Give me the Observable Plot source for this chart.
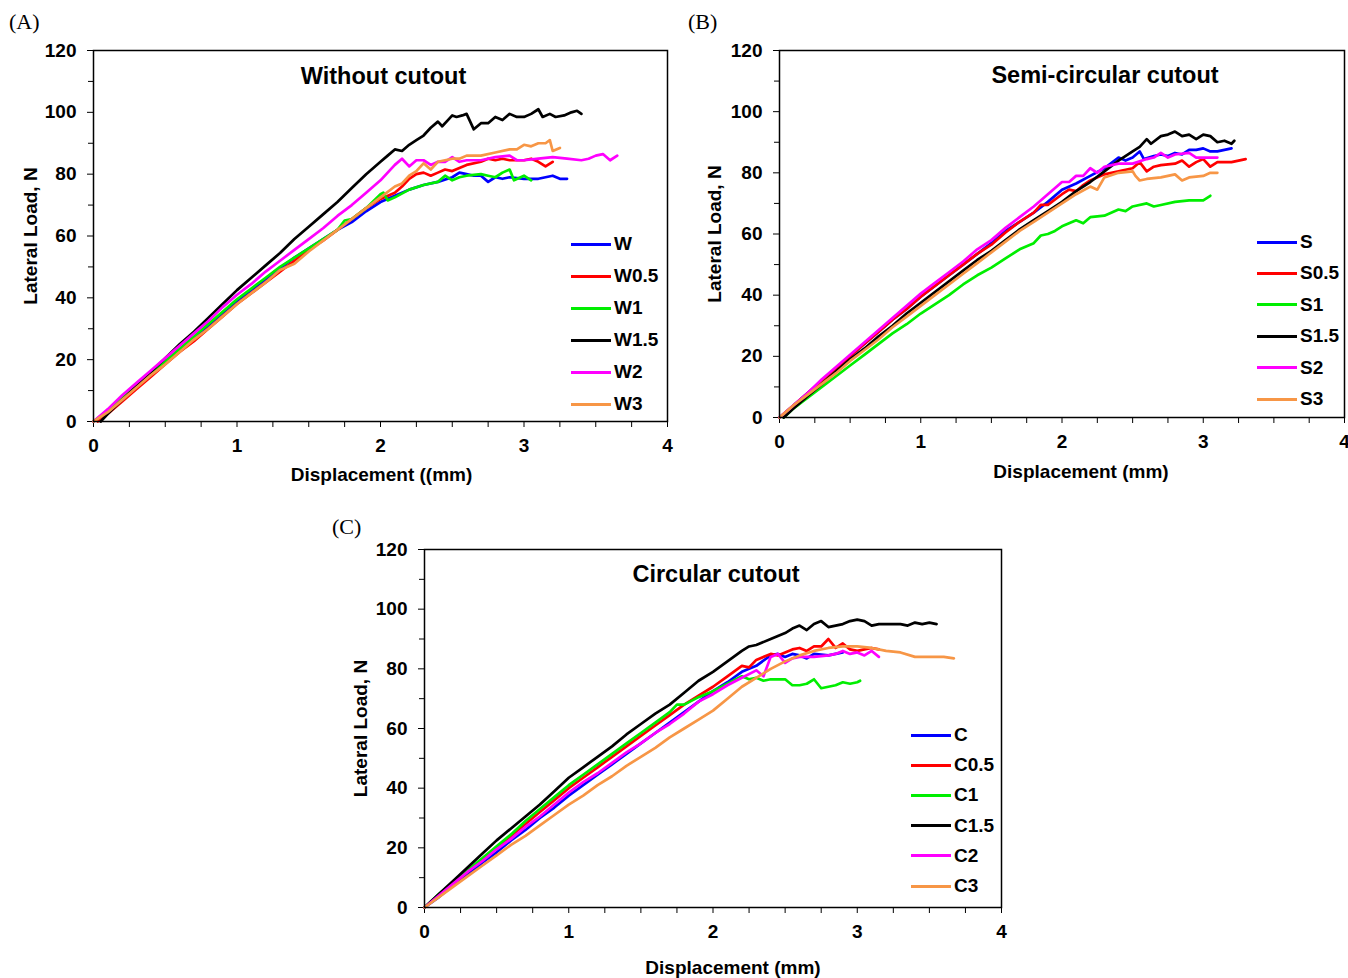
<!DOCTYPE html>
<html><head><meta charset="utf-8">
<script src="https://cdn.jsdelivr.net/npm/d3@7"></script>
<script src="https://cdn.jsdelivr.net/npm/@observablehq/plot@0.6"></script>
<style>
body{margin:0;background:#fff;}
#wrap{position:relative;width:1348px;height:978px;background:#fff;overflow:hidden;font-family:"Liberation Sans",Arial,sans-serif;}
.panel{position:absolute;}
.plab{position:absolute;font-family:"Liberation Serif","Times New Roman",serif;font-size:22px;color:#000;line-height:22px;}
.row{position:absolute;height:20px;display:flex;align-items:center;white-space:nowrap;}
.sw{width:40px;height:3px;}
.tx{font-weight:bold;font-size:19px;margin-left:3px;color:#000;}
</style></head><body><div id="wrap"></div>
<script>
// ---- shared tick labels / colours ----
const xTicks = [0, 1, 2, 3, 4];
const xMinorTicks = [0.25,0.5,0.75,1.25,1.5,1.75,2.25,2.5,2.75,3.25,3.5,3.75];
const yTicks = [0, 20, 40, 60, 80, 100, 120];
const yMinorTicks = [10, 30, 50, 70, 90, 110];
const seriesColors = ["#0000ff", "#ff0000", "#00ee00", "#000000", "#ff00ff", "#f79646"];

// ---- Panel A: Without cutout ----
const namesA = ["W", "W0.5", "W1", "W1.5", "W2", "W3"];
const A_W = [[0,0],[0.1,3.5],[0.2,7.5],[0.3,11.5],[0.4,15.5],[0.5,19.5],[0.6,23],[0.7,27],[0.8,31],[0.9,35],[1.0,39],[1.1,42.5],[1.2,46],[1.3,49.5],[1.4,53],[1.5,56],[1.6,59],[1.7,62],[1.8,64.5],[1.9,68],[2.0,71],[2.1,73],[2.2,75],[2.3,76.5],[2.4,77.5],[2.5,79],[2.55,80.5],[2.6,80],[2.65,79.5],[2.7,79.5],[2.75,77.5],[2.8,79],[2.85,78.5],[2.9,79],[3.0,78.5],[3.1,78.5],[3.2,79.5],[3.25,78.5],[3.3,78.5]];
const A_W05 = [[0.03,0],[0.1,2.5],[0.2,6.5],[0.3,10.5],[0.4,14.5],[0.5,18.5],[0.6,22.5],[0.7,26],[0.8,30],[0.9,34],[1.0,38],[1.1,41.5],[1.2,45],[1.3,48.5],[1.4,52],[1.5,55.5],[1.6,58.5],[1.7,62],[1.8,65.5],[1.9,69],[2.0,72],[2.1,74],[2.15,76],[2.2,78.5],[2.25,80],[2.3,80.5],[2.35,79.5],[2.4,80.5],[2.45,81.5],[2.5,81],[2.6,83],[2.7,84],[2.75,85],[2.8,84.5],[2.85,85],[2.9,84.5],[3.0,84.5],[3.05,85],[3.1,84],[3.15,82.5],[3.2,84]];
const A_W1 = [[0,0],[0.1,3.5],[0.2,7.5],[0.3,11.5],[0.4,15.5],[0.5,19.5],[0.6,23.5],[0.7,27.5],[0.8,31.5],[0.9,35.5],[1.0,39.5],[1.1,43],[1.2,46.5],[1.3,50],[1.4,53],[1.5,56],[1.6,59],[1.7,62],[1.75,65],[1.8,65.5],[1.9,69],[2.0,73.5],[2.02,74],[2.05,71.5],[2.1,72.5],[2.2,75],[2.3,76.5],[2.4,77.5],[2.45,79.5],[2.5,78],[2.55,79],[2.6,79.5],[2.7,80],[2.75,79.5],[2.8,79],[2.85,80.5],[2.9,81.5],[2.93,78],[3.0,79.5],[3.05,78]];
const A_W15 = [[0.05,0],[0.1,2.5],[0.2,7],[0.3,11.5],[0.4,16],[0.5,20.5],[0.6,25],[0.7,29],[0.8,33.5],[0.9,38],[1.0,42.5],[1.1,46.5],[1.2,50.5],[1.3,54.5],[1.4,59],[1.5,63],[1.6,67],[1.7,71],[1.8,75.5],[1.9,80],[2.0,84],[2.05,86],[2.1,88],[2.15,87.5],[2.2,89.5],[2.25,91],[2.3,92.5],[2.35,95],[2.4,97],[2.43,95.5],[2.47,97.5],[2.5,99],[2.53,98.5],[2.57,99],[2.6,99.5],[2.65,94.5],[2.7,96.5],[2.75,96.5],[2.8,98.5],[2.85,97.5],[2.9,99.5],[2.95,98.5],[3.0,98.5],[3.05,99.5],[3.1,101],[3.13,98.5],[3.18,99.5],[3.22,98.5],[3.28,99],[3.33,100],[3.37,100.5],[3.4,99.5]];
const A_W2 = [[0,0],[0.1,4],[0.2,8.5],[0.3,12.5],[0.4,16.5],[0.5,20.5],[0.6,24.5],[0.7,28.5],[0.8,32.5],[0.9,37],[1.0,41],[1.1,44.5],[1.2,48.5],[1.3,52],[1.4,55.5],[1.5,59],[1.6,62.5],[1.7,66.5],[1.8,70],[1.9,74],[2.0,78],[2.05,80.5],[2.1,83],[2.15,85],[2.2,82.5],[2.25,84.5],[2.3,84.5],[2.35,83],[2.4,84],[2.45,84],[2.5,85.5],[2.55,84],[2.6,84.5],[2.7,84.5],[2.8,85.5],[2.9,86],[2.95,84.5],[3.0,84.5],[3.1,85],[3.2,85.5],[3.3,85],[3.4,84.5],[3.45,85],[3.5,86],[3.55,86.5],[3.6,84.5],[3.65,86]];
const A_W3 = [[0,0],[0.1,3],[0.2,7],[0.3,11],[0.4,15],[0.5,18.5],[0.6,22.5],[0.7,26.5],[0.8,30],[0.9,34],[1.0,38],[1.1,41.5],[1.2,45],[1.3,49],[1.4,51],[1.5,55],[1.6,58.5],[1.7,62],[1.8,65.5],[1.9,69],[2.0,72.5],[2.1,76],[2.15,77],[2.2,79.5],[2.25,81],[2.3,83.5],[2.35,81.5],[2.4,84],[2.5,85],[2.55,85],[2.6,86],[2.7,86],[2.8,87],[2.9,88],[2.95,88],[3.0,89.5],[3.05,89],[3.1,90],[3.15,90],[3.18,91],[3.2,87.5],[3.25,88.5]];

// ---- Panel B: Semi-circular cutout ----
const namesB = ["S", "S0.5", "S1", "S1.5", "S2", "S3"];
const B_S = [[0,0],[0.1,4],[0.2,8],[0.3,12],[0.4,16],[0.5,20],[0.6,24],[0.7,28],[0.8,32],[0.9,35.5],[1.0,39.5],[1.1,43],[1.2,46.5],[1.3,50],[1.4,53.5],[1.5,57],[1.6,61],[1.7,64],[1.8,67],[1.9,70.5],[2.0,74.5],[2.1,76.5],[2.2,79],[2.3,81.5],[2.4,85],[2.45,84],[2.5,85],[2.55,87],[2.58,84.5],[2.65,85.5],[2.7,86],[2.75,85.5],[2.8,86.5],[2.85,86],[2.9,87.5],[2.95,87.5],[3.0,88],[3.05,87],[3.1,87],[3.15,87.5],[3.2,88]];
const B_S05 = [[0,0],[0.1,4],[0.2,8],[0.3,12],[0.4,16],[0.5,20],[0.6,24],[0.7,28],[0.8,32],[0.9,35.5],[1.0,39.5],[1.1,43],[1.2,46.5],[1.3,50],[1.4,53.5],[1.5,56.5],[1.6,60.5],[1.7,64],[1.8,67],[1.85,69.5],[1.9,69.5],[2.0,73],[2.05,74.5],[2.1,74],[2.15,76],[2.2,77.5],[2.3,79.5],[2.4,80.5],[2.5,81.5],[2.55,83.5],[2.6,80.5],[2.65,82],[2.7,82.5],[2.8,83],[2.85,84],[2.9,82],[2.95,83.5],[3.0,84.5],[3.05,82],[3.1,83.5],[3.2,83.5],[3.3,84.5]];
const B_S1 = [[0.03,0],[0.1,3],[0.2,6.5],[0.3,10],[0.4,13.5],[0.5,17],[0.6,20.5],[0.7,24],[0.8,27.5],[0.9,30.5],[1.0,34],[1.1,37],[1.2,40],[1.3,43.5],[1.4,46.5],[1.5,49],[1.6,52],[1.7,55],[1.8,57],[1.85,59.5],[1.9,60],[1.95,61],[2.0,62.5],[2.1,64.5],[2.15,63.5],[2.2,65.5],[2.3,66],[2.4,68],[2.45,67.5],[2.5,69],[2.6,70],[2.65,69],[2.7,69.5],[2.8,70.5],[2.9,71],[3.0,71],[3.05,72.5]];
const B_S15 = [[0.03,0],[0.1,3],[0.2,7],[0.3,11],[0.4,15],[0.5,19],[0.6,22.5],[0.7,26.5],[0.8,30],[0.9,34],[1.0,37.5],[1.1,41],[1.2,44.5],[1.3,48],[1.4,51.5],[1.5,54.5],[1.6,58],[1.7,61.5],[1.8,64.5],[1.9,67.5],[2.0,70.5],[2.1,74],[2.2,77],[2.3,80.5],[2.4,84],[2.5,87],[2.55,88.5],[2.6,91],[2.63,89.5],[2.7,92],[2.75,92.5],[2.8,93.5],[2.85,92],[2.9,92.5],[2.95,91],[3.0,92.5],[3.05,92],[3.1,90],[3.15,90.5],[3.2,89.5],[3.22,90.5]];
const B_S2 = [[0,0],[0.1,4],[0.2,8],[0.3,12.5],[0.4,16.5],[0.5,20.5],[0.6,24.5],[0.7,28.5],[0.8,32.5],[0.9,36.5],[1.0,40.5],[1.1,44],[1.2,47.5],[1.3,51],[1.4,55],[1.5,58],[1.6,62],[1.7,65.5],[1.8,69],[1.9,73],[2.0,77],[2.05,77],[2.1,79],[2.15,79],[2.2,81.5],[2.25,80],[2.3,82],[2.4,83],[2.5,83],[2.6,84.5],[2.65,85],[2.7,86.5],[2.75,85],[2.8,86],[2.9,86.5],[2.95,85],[3.0,85],[3.1,85]];
const B_S3 = [[0,0],[0.1,4],[0.2,7.5],[0.3,11],[0.4,14.5],[0.5,18.5],[0.6,22],[0.7,25.5],[0.8,29.5],[0.9,33],[1.0,36.5],[1.1,40],[1.2,43.5],[1.3,47],[1.4,50.5],[1.5,54],[1.6,57.5],[1.7,61],[1.8,64],[1.9,67],[2.0,70],[2.1,73],[2.2,75.5],[2.25,74.5],[2.3,78.5],[2.4,80],[2.5,80.5],[2.52,79],[2.55,77.5],[2.6,78],[2.7,78.5],[2.8,79.5],[2.85,77.5],[2.9,78.5],[3.0,79],[3.05,80],[3.1,80]];

// ---- Panel C: Circular cutout ----
const namesC = ["C", "C0.5", "C1", "C1.5", "C2", "C3"];
const C_C = [[0,0],[0.1,3.5],[0.2,7.5],[0.3,11],[0.4,15],[0.5,18.5],[0.6,22.5],[0.7,26],[0.8,30],[0.9,33.5],[1.0,37.5],[1.1,41],[1.2,44.5],[1.3,48],[1.4,51.5],[1.5,55],[1.6,58.5],[1.7,62],[1.8,65.5],[1.9,69],[2.0,72.5],[2.1,75.5],[2.2,79],[2.3,81],[2.4,84.5],[2.45,85],[2.5,84],[2.55,85],[2.6,84.5],[2.65,83.5],[2.7,85],[2.8,84.5],[2.9,85.5]];
const C_C05 = [[0,0],[0.1,4],[0.2,8],[0.3,12],[0.4,16],[0.5,20],[0.6,24],[0.7,28],[0.8,32],[0.9,36],[1.0,40],[1.1,43.5],[1.2,47],[1.3,50.5],[1.4,54],[1.5,57.5],[1.6,61],[1.7,64.5],[1.8,68],[1.9,71],[2.0,74],[2.1,77.5],[2.2,81],[2.25,80.5],[2.3,83],[2.4,85],[2.45,84.5],[2.5,85.5],[2.55,86.5],[2.6,87],[2.65,86],[2.7,87.5],[2.75,87.5],[2.8,90],[2.85,87],[2.9,88.5],[2.95,86.5],[3.0,86],[3.05,86.5],[3.1,87],[3.15,86.5]];
const C_C1 = [[0,0],[0.1,4.5],[0.2,8.5],[0.3,12.5],[0.4,16.5],[0.5,20.5],[0.6,24.5],[0.7,29],[0.8,33],[0.9,37],[1.0,41],[1.1,44.5],[1.2,48],[1.3,51.5],[1.4,55],[1.5,58.5],[1.6,62],[1.7,65.5],[1.75,68],[1.8,68],[1.9,70.5],[2.0,72.5],[2.1,75],[2.2,77.5],[2.25,76.5],[2.3,77],[2.35,76],[2.4,76.5],[2.5,76.5],[2.55,74.5],[2.6,74.5],[2.65,75],[2.7,76.5],[2.75,73.5],[2.8,74],[2.85,74.5],[2.9,75.5],[2.95,75],[3.0,75.5],[3.02,76]];
const C_C15 = [[0,0],[0.1,4.5],[0.2,9],[0.3,13.5],[0.4,18],[0.5,22.5],[0.6,26.5],[0.7,30.5],[0.8,34.5],[0.9,39],[1.0,43.5],[1.1,47],[1.2,50.5],[1.3,54],[1.4,58],[1.5,61.5],[1.6,65],[1.7,68],[1.8,72],[1.9,76],[2.0,79],[2.1,82.5],[2.2,86],[2.25,87.5],[2.3,88],[2.4,90],[2.5,92],[2.55,93.5],[2.6,94.5],[2.65,93],[2.7,95],[2.75,96],[2.8,94],[2.85,94.5],[2.9,95],[2.95,96],[3.0,96.5],[3.05,96],[3.1,94.5],[3.15,95],[3.2,95],[3.3,95],[3.35,94.5],[3.4,95.5],[3.45,95],[3.5,95.5],[3.55,95]];
const C_C2 = [[0,0],[0.1,4],[0.2,8],[0.3,12],[0.4,15.5],[0.5,19.5],[0.6,23],[0.7,27],[0.8,30.5],[0.9,34.5],[1.0,38.5],[1.1,42],[1.2,45],[1.3,48.5],[1.4,52],[1.5,55],[1.6,58.5],[1.7,61.5],[1.8,65],[1.9,69],[2.0,71.5],[2.1,74.5],[2.2,77],[2.3,79.5],[2.35,77.5],[2.4,84],[2.45,85],[2.5,82],[2.55,83.5],[2.6,84],[2.7,84],[2.8,84.5],[2.85,85],[2.9,86],[2.95,85],[3.0,85.5],[3.05,84.5],[3.1,86],[3.15,84]];
const C_C3 = [[0,0],[0.1,3.5],[0.2,7],[0.3,10.5],[0.4,14],[0.5,17.5],[0.6,21],[0.7,24],[0.8,27.5],[0.9,31],[1.0,34.5],[1.1,37.5],[1.2,41],[1.3,44],[1.4,47.5],[1.5,50.5],[1.6,53.5],[1.7,57],[1.8,60],[1.9,63],[2.0,66],[2.1,70],[2.2,74],[2.3,77],[2.4,80],[2.5,82.5],[2.6,84.5],[2.7,86],[2.8,87],[2.9,87.5],[3.0,87.5],[3.1,87],[3.2,86],[3.3,85.5],[3.4,84],[3.5,84],[3.6,84],[3.67,83.5]];

const wrap = document.getElementById("wrap");
const FONT = "'Liberation Sans', Arial, sans-serif";

function makePanel(cfg) {
  const marks = [
    Plot.axisY(yMinorTicks, {tickSize: 5, tickFormat: () => "", label: null}),
    Plot.axisY(yTicks, {tickSize: 6, tickPadding: 11, fontSize: 19, fontWeight: "bold", tickFormat: d => String(d), label: null}),
    Plot.axisX(xMinorTicks, {tickSize: 6, tickFormat: () => "", label: null}),
    Plot.axisX(xTicks, {tickSize: 6, tickPadding: 11, fontSize: 19, fontWeight: "bold", tickFormat: d => String(d), label: null})
  ];
  cfg.series.forEach((s, i) => {
    marks.push(Plot.line(s, {x: d => d[0], y: d => d[1], stroke: seriesColors[i], strokeWidth: 2.7, strokeLinejoin: "round"}));
  });
  marks.push(Plot.frame({stroke: "#000", strokeWidth: 1.5}));
  marks.push(Plot.text([cfg.title], {frameAnchor: "top", dy: cfg.titleDy, dx: cfg.titleDx, fontSize: 23.5, fontWeight: "bold", textAnchor: "middle", lineAnchor: "middle"}));
  marks.push(Plot.text([cfg.xLabel], {frameAnchor: "bottom", dy: cfg.xLabelDy, dx: cfg.xLabelDx, fontSize: 19, fontWeight: "bold", textAnchor: "middle", lineAnchor: "middle"}));
  marks.push(Plot.text(["Lateral Load, N"], {frameAnchor: "left", dx: cfg.yLabelDx, rotate: -90, fontSize: 19, fontWeight: "bold", textAnchor: "middle", lineAnchor: "middle"}));
  const svg = Plot.plot({
    width: cfg.width, height: cfg.height,
    marginLeft: cfg.m[0], marginTop: cfg.m[1], marginRight: cfg.m[2], marginBottom: cfg.m[3],
    x: {domain: [0, 4]}, y: {domain: [0, 120]},
    style: {fontFamily: FONT, fontWeight: "bold", color: "#000", background: "transparent", overflow: "visible"},
    marks
  });
  const box = document.createElement("div");
  box.className = "panel";
  box.style.left = cfg.left + "px"; box.style.top = cfg.top + "px";
  box.appendChild(svg);
  wrap.appendChild(box);

  const lab = document.createElement("div");
  lab.className = "plab";
  lab.textContent = cfg.letter;
  lab.style.left = cfg.letterPos[0] + "px"; lab.style.top = cfg.letterPos[1] + "px";
  wrap.appendChild(lab);

  cfg.names.forEach((n, i) => {
    const row = document.createElement("div");
    row.className = "row";
    row.style.left = cfg.legend.x + "px";
    row.style.top = (cfg.legend.y0 + i * cfg.legend.dy - 10) + "px";
    const sw = document.createElement("div");
    sw.className = "sw"; sw.style.background = seriesColors[i];
    const tx = document.createElement("span");
    tx.className = "tx"; tx.textContent = n;
    row.appendChild(sw); row.appendChild(tx);
    wrap.appendChild(row);
  });
}

makePanel({
  series: [A_W, A_W05, A_W1, A_W15, A_W2, A_W3], names: namesA,
  title: "Without cutout", xLabel: "Displacement ((mm)",
  width: 690, height: 495, m: [93, 50, 23, 74], left: 0, top: 0,
  titleDy: 26, titleDx: 3, xLabelDy: 53, xLabelDx: 1, yLabelDx: -63,
  letter: "(A)", letterPos: [9, 11],
  legend: {x: 571, y0: 244, dy: 32}
});
makePanel({
  series: [B_S, B_S05, B_S1, B_S15, B_S2, B_S3], names: namesB,
  title: "Semi-circular cutout", xLabel: "Displacement (mm)",
  width: 668, height: 495, m: [99, 50, 4, 78], left: 680, top: 0,
  titleDy: 25, titleDx: 43, xLabelDy: 54, xLabelDx: 19, yLabelDx: -65,
  letter: "(B)", letterPos: [688, 11],
  legend: {x: 1257, y0: 242, dy: 31.4}
});
makePanel({
  series: [C_C, C_C05, C_C1, C_C15, C_C2, C_C3], names: namesC,
  title: "Circular cutout", xLabel: "Displacement (mm)",
  width: 690, height: 478, m: [94, 49, 19, 71], left: 330, top: 500,
  titleDy: 25, titleDx: 3, xLabelDy: 60, xLabelDx: 20, yLabelDx: -64,
  letter: "(C)", letterPos: [332, 516],
  legend: {x: 911, y0: 735, dy: 30.2}
});
</script></body></html>
